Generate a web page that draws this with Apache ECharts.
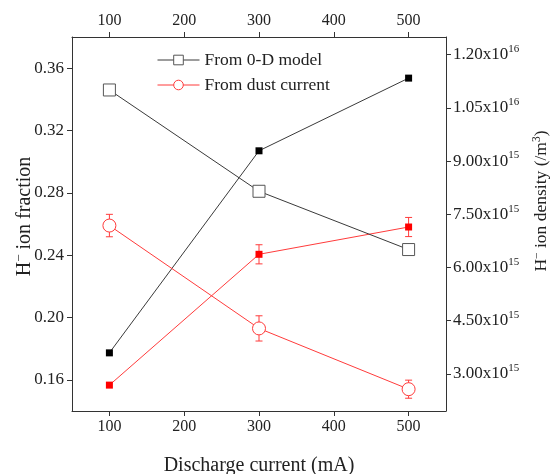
<!DOCTYPE html>
<html>
<head>
<meta charset="utf-8">
<script src="https://cdn.jsdelivr.net/npm/echarts@6/dist/echarts.min.js"></script>
<style>html,body{margin:0;padding:0;background:#fff;}#c{width:553px;height:474px;}</style>
</head>
<body>
<div id="c"></div>
<script>
// ---- data ----
const currents = [100, 300, 500];
const modelFraction = [0.346, 0.281, 0.2436];
const dustFraction = [0.259, 0.193, 0.154];
const dustFractionErr = [0.0072, 0.0081, 0.0058];
const modelDensity = [3.59e15, 9.29e15, 1.134e16];
const dustDensity = [2.68e15, 6.37e15, 7.14e15];
const dustDensityErr = [0, 0.27e15, 0.27e15];
const xTicks = [100, 200, 300, 400, 500];
const leftTicks = [0.16, 0.20, 0.24, 0.28, 0.32, 0.36];
const rightTicks = [3.0e15, 4.5e15, 6.0e15, 7.5e15, 9.0e15, 1.05e16, 1.2e16];

const FONT = 'Liberation Serif';
const TXT = '#222';
const AX = '#333';
const BLACK = '#3a3a3a';
const RED = '#ff3b3b';

function pairs(xs, ys) { return xs.map((x, i) => [x, ys[i]]); }
function errData(xs, ys, es) { return xs.map((x, i) => [x, ys[i] - es[i], ys[i] + es[i]]).filter((d, i) => es[i] > 0); }

function errRender(color) {
  return function (params, api) {
    const x = api.value(0);
    const lo = api.coord([x, api.value(1)]);
    const hi = api.coord([x, api.value(2)]);
    const w = 3.5;
    const st = { stroke: color, lineWidth: 1 };
    return {
      type: 'group',
      children: [
        { type: 'line', shape: { x1: lo[0], y1: lo[1], x2: hi[0], y2: hi[1] }, style: st },
        { type: 'line', shape: { x1: lo[0] - w, y1: lo[1], x2: lo[0] + w, y2: lo[1] }, style: st },
        { type: 'line', shape: { x1: hi[0] - w, y1: hi[1], x2: hi[0] + w, y2: hi[1] }, style: st }
      ]
    };
  };
}

function sci(v) {
  const e = Math.floor(Math.log10(v) + 1e-9);
  const m = v / Math.pow(10, e);
  return m.toFixed(2) + 'x10{sup|' + e + '}';
}

const rich = {
  sup: { fontFamily: FONT, fontSize: 11, color: TXT, verticalAlign: 'top', lineHeight: 22 }
};
const nameRichL = {
  sup: { fontFamily: FONT, fontSize: 13, color: TXT, verticalAlign: 'top', lineHeight: 24 }
};
const nameRichR = {
  sup: { fontFamily: FONT, fontSize: 11.5, color: TXT, verticalAlign: 'top', lineHeight: 21 }
};

const xCommon = {
  type: 'value', min: 50, max: 550,
  axisLine: { show: true, lineStyle: { color: AX, width: 1 } },
  axisTick: { show: true, length: 5, lineStyle: { color: AX }, customValues: xTicks },
  axisLabel: { margin: 8, customValues: xTicks, fontFamily: FONT, fontSize: 16, color: TXT },
  splitLine: { show: false }
};

const option = {
  animation: false,
  backgroundColor: '#fff',
  grid: { left: 72, right: 107, top: 37, bottom: 63, containLabel: false, outerBoundsMode: 'none' },
  legend: {
    orient: 'vertical', left: 152, top: 46,
    itemWidth: 42, itemHeight: 12, itemGap: 7,
    data: ['From 0-D model', 'From dust current'],
    lineStyle: { width: 1 },
    itemStyle: { borderWidth: 1 },
    textStyle: { fontFamily: FONT, fontSize: 17.5, color: TXT }
  },
  xAxis: [
    Object.assign({}, xCommon, {
      position: 'bottom',
      name: 'Discharge current (mA)', nameLocation: 'middle', nameGap: 45,
      nameTextStyle: { fontFamily: FONT, fontSize: 20, color: TXT }
    }),
    Object.assign({}, xCommon, { position: 'top' })
  ],
  yAxis: [
    {
      type: 'value', min: 0.14, max: 0.38, position: 'left',
      axisLine: { show: true, lineStyle: { color: AX, width: 1 } },
      axisTick: { show: true, length: 5, lineStyle: { color: AX }, customValues: leftTicks },
      axisLabel: { margin: 8, customValues: leftTicks, formatter: v => v.toFixed(2), fontFamily: FONT, fontSize: 17, color: TXT },
      splitLine: { show: false },
      name: 'H{sup|\u2212} ion fraction', nameLocation: 'middle', nameGap: 35, nameRotate: 90, nameMoveOverlap: false,
      nameTextStyle: { fontFamily: FONT, fontSize: 20, color: TXT, rich: nameRichL, padding: [0, 0, 0, 15] }
    },
    {
      type: 'value', min: 1.95e15, max: 1.25e16, position: 'right',
      axisLine: { show: true, lineStyle: { color: AX, width: 1 } },
      axisTick: { show: true, length: 5, lineStyle: { color: AX }, customValues: rightTicks },
      axisLabel: { margin: 7, customValues: rightTicks, formatter: v => sci(v), rich: rich, fontFamily: FONT, fontSize: 17, color: TXT },
      splitLine: { show: false },
      name: 'H{sup|\u2212} ion density (/m{sup|3})', nameLocation: 'middle', nameGap: 85, nameRotate: 90, nameMoveOverlap: false,
      nameTextStyle: { fontFamily: FONT, fontSize: 17.5, color: TXT, rich: nameRichR, padding: [0, 0, 0, 46] }
    }
  ],
  series: [
    {
      name: 'model density', type: 'line', xAxisIndex: 0, yAxisIndex: 1,
      data: pairs(currents, modelDensity),
      symbol: 'rect', symbolSize: 7, showAllSymbol: true,
      lineStyle: { color: BLACK, width: 1 },
      itemStyle: { color: '#000' }, z: 3
    },
    {
      name: 'dust density err', type: 'custom', xAxisIndex: 0, yAxisIndex: 1,
      data: errData(currents, dustDensity, dustDensityErr),
      renderItem: errRender(RED), z: 2, silent: true
    },
    {
      name: 'dust density', type: 'line', xAxisIndex: 0, yAxisIndex: 1,
      data: pairs(currents, dustDensity),
      symbol: 'rect', symbolSize: 7,
      lineStyle: { color: RED, width: 1 },
      itemStyle: { color: '#ff0000' }, z: 3
    },
    {
      name: 'From 0-D model', type: 'line', xAxisIndex: 0, yAxisIndex: 0,
      data: pairs(currents, modelFraction),
      symbol: 'rect', symbolSize: 12,
      lineStyle: { color: BLACK, width: 1 },
      itemStyle: { color: '#fff', borderColor: '#555', borderWidth: 1 }, z: 4
    },
    {
      name: 'dust fraction err', type: 'custom', xAxisIndex: 0, yAxisIndex: 0,
      data: errData(currents, dustFraction, dustFractionErr),
      renderItem: errRender(RED), z: 2, silent: true
    },
    {
      name: 'From dust current', type: 'line', xAxisIndex: 0, yAxisIndex: 0,
      data: pairs(currents, dustFraction),
      symbol: 'circle', symbolSize: 13,
      lineStyle: { color: RED, width: 1 },
      itemStyle: { color: '#fff', borderColor: RED, borderWidth: 1 }, z: 4
    }
  ]
};

const chart = echarts.init(document.getElementById('c'), null, { renderer: 'canvas' });
chart.setOption(option);
</script>
</body>
</html>
